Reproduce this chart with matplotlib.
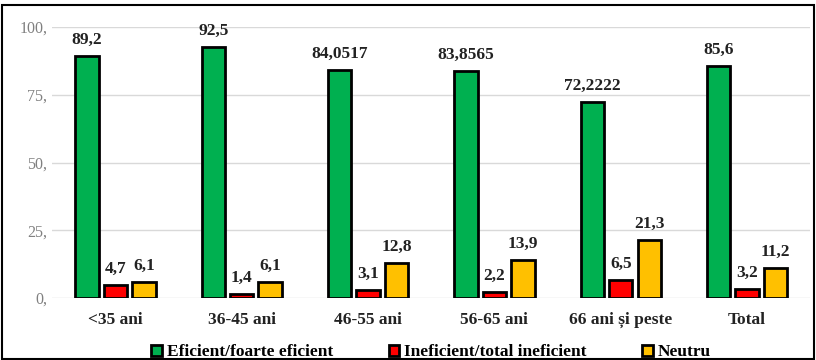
# grouped bar chart - efficiency by age group

import numpy as np
import matplotlib
matplotlib.use("Agg")
import matplotlib.pyplot as plt
from matplotlib.patches import Rectangle

categories = ["<35 ani", "36-45 ani", "46-55 ani", "56-65 ani", "66 ani și peste", "Total"]
eficient = [89.2, 92.5, 84.0517, 83.8565, 72.2222, 85.6]
ineficient = [4.7, 1.4, 3.1, 2.2, 6.5, 3.2]
neutru = [6.1, 6.1, 12.8, 13.9, 21.3, 11.2]

eficient_labels = ["89,2", "92,5", "84,0517", "83,8565", "72,2222", "85,6"]
ineficient_labels = ["4,7", "1,4", "3,1", "2,2", "6,5", "3,2"]
neutru_labels = ["6,1", "6,1", "12,8", "13,9", "21,3", "11,2"]

series_names = ["Eficient/foarte eficient", "Ineficient/total ineficient", "Neutru"]
colors = ["#00B050", "#FF0000", "#FFC000"]

yticks = [0, 25, 50, 75, 100]
ytick_labels = ["0,", "25,", "50,", "75,", "100,"]

plt.rcParams['font.family'] = ['Liberation Serif', 'DejaVu Serif']

fig = plt.figure(figsize=(8.16, 3.6), dpi=100)
ax = fig.add_axes([0.064, 0.172, 0.929, 0.753])

x = np.arange(len(categories))
w = 0.185
step = 0.225

all_vals = [eficient, ineficient, neutru]
all_labels = [eficient_labels, ineficient_labels, neutru_labels]

for i in range(3):
    pos = x + (i - 1) * step
    ax.bar(pos, all_vals[i], width=w, color=colors[i], edgecolor="black",
           linewidth=2, label=series_names[i], zorder=3)
    for p, v, lab in zip(pos, all_vals[i], all_labels[i]):
        ax.text(p, v + 3, lab, ha="center", va="bottom", fontsize=12.5,
                fontweight="bold", color="#222222")

ax.set_ylim(0, 100)
ax.set_xlim(-0.5, len(categories) - 0.5)
ax.set_yticks(yticks)
ax.set_yticklabels(ytick_labels, color="#808080", fontsize=11.5)
ax.set_xticks(x)
ax.set_xticklabels(categories, fontsize=12.5, fontweight="bold", color="#222222")
ax.tick_params(axis="both", length=0)
ax.tick_params(axis="x", pad=10)
ax.yaxis.grid(True, color="#D9D9D9", linewidth=1, zorder=0)
for s in ax.spines.values():
    s.set_visible(False)

ax.legend(loc="center", bbox_to_anchor=(0.5, -0.2), ncol=3, frameon=False,
          prop={"weight": "bold", "size": 12.5}, handlelength=0.6, handleheight=0.6,
          handletextpad=0.3, columnspacing=3.2)

fig.patches.append(Rectangle((0.002, 0.004), 0.996, 0.982, transform=fig.transFigure,
                             fill=False, edgecolor="black", linewidth=1.5))

fig.savefig("out.png", dpi=100)
